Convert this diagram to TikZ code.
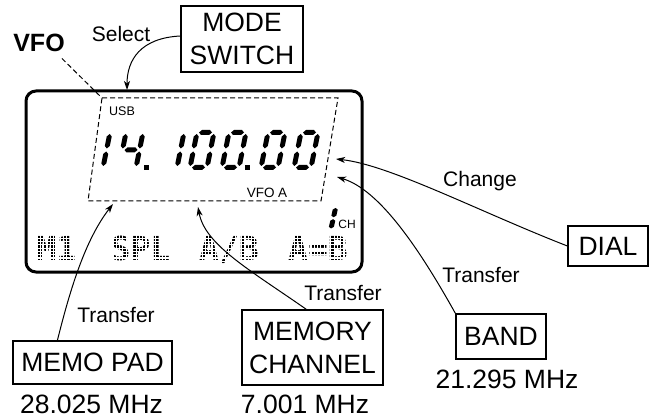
\documentclass[tikz,border=0pt]{standalone}
\usepackage{fontspec}
\setmainfont{Liberation Sans}
\newfontfamily\dotfont{DejaVu Sans Mono}
\usetikzlibrary{arrows.meta}

% seven-segment segments (local cell: width 22, height 40, y down, bottom at 0)
\def\segA{(4.5,-37.5) -- (7,-40) -- (15,-40) -- (17.5,-37.5) -- (15,-35) -- (7,-35) -- cycle }
\def\segG{(4.5,-20) -- (7,-22.5) -- (15,-22.5) -- (17.5,-20) -- (15,-17.5) -- (7,-17.5) -- cycle }
\def\segD{(4.5,-2.5) -- (7,-5) -- (15,-5) -- (17.5,-2.5) -- (15,0) -- (7,0) -- cycle }
\def\segF{(2.5,-36) -- (5,-33.5) -- (5,-24) -- (2.5,-21.5) -- (0,-24) -- (0,-33.5) -- cycle }
\def\segE{(2.5,-18.5) -- (5,-16) -- (5,-6.5) -- (2.5,-4) -- (0,-6.5) -- (0,-16) -- cycle }
\def\segB{(19.5,-36) -- (22,-33.5) -- (22,-24) -- (19.5,-21.5) -- (17,-24) -- (17,-33.5) -- cycle }
\def\segC{(19.5,-18.5) -- (22,-16) -- (22,-6.5) -- (19.5,-4) -- (17,-6.5) -- (17,-16) -- cycle }

\newcommand\sevzero[2]{\begin{scope}[shift={(#1,#2)},xslant=0.2]\fill \segA \segB \segC \segD \segE \segF;\end{scope}}
\newcommand\sevone[2]{\begin{scope}[shift={(#1,#2)},xslant=0.2]\fill \segB \segC;\end{scope}}
\newcommand\sevfour[2]{\begin{scope}[shift={(#1,#2)},xslant=0.2]\fill \segB \segC \segF \segG;\end{scope}}

\begin{document}
\begin{tikzpicture}[x=1pt,y=-1pt,
  box/.style={draw, line width=1.2pt, inner sep=0pt, align=center,
    font=\fontsize{26.5}{33}\selectfont},
  lab/.style={anchor=base, inner sep=0pt, font=\fontsize{21}{24}\selectfont},
  freq/.style={anchor=base, inner sep=0pt, font=\fontsize{26.5}{30}\selectfont},
  small/.style={anchor=base, inner sep=0pt, font=\fontsize{12.5}{14}\selectfont},
  dm/.style={anchor=base, inner sep=0pt, font=\dotfont\bfseries\fontsize{33}{36}\selectfont},
  conn/.style={line width=1pt, -{Stealth[length=9pt,width=6pt,inset=2.5pt]}},
  dsh/.style={line width=1pt, dash pattern=on 5pt off 3pt}]
\useasboundingbox (0,0) rectangle (652,419);

% ---- display ----
\draw[line width=3pt, rounded corners=10pt] (26,91) rectangle (362,272);

% dashed VFO frame
\coordinate (pTL) at (102,98);
\coordinate (pTR) at (338,98);
\coordinate (pBR) at (321,201);
\coordinate (pBL) at (88,201);
\draw[dsh] (pTL) -- (pTR) -- (pBR) -- (pBL) -- cycle;

% seven-segment frequency 14. 100.00
\sevone{83}{170}
\sevfour{116}{170}
\fill (144,165) rectangle (149,170);
\sevone{157}{170}
\sevzero{187}{170}
\sevzero{219}{170}
\fill (245,165) rectangle (250,170);
\sevzero{258}{170}
\sevzero{291}{170}

% channel digit 1
\begin{scope}[shift={(311,231)},xslant=0.22,yscale=0.64]
  \fill \segB \segC;
\end{scope}

\node[small] (usb) at (122,116) {USB};
\node[small, font=\fontsize{13.5}{15}\selectfont] (vfoa) at (267,198) {VFO A};
\node[small, font=\fontsize{12}{14}\selectfont] (ch) at (347,229) {CH};

% dot-matrix line
\node[dm] (m1) at (56.5,260) {M1};
\node[dm] (spl) at (140.5,260) {SPL};
\node[dm] (ab) at (229,260) {A/B};
\node[dm] (aeqb) at (318,260) {A=B};
\begin{scope}
  \clip (30,231) rectangle (358,264);
  \foreach \i in {0,...,11} \draw[white,line width=1.1pt] (30,231.6+\i*3.3) -- (358,231.6+\i*3.3);
  \foreach \i in {0,...,100} \draw[white,line width=1.1pt] (30.5+\i*3.3,231) -- (30.5+\i*3.3,264);
\end{scope}

% ---- outside labels and boxes ----
\node[anchor=base, inner sep=0pt, font=\bfseries\fontsize{25}{28}\selectfont] (vfo) at (39,52) {VFO};
\node[lab] (select) at (121,42) {Select};
\node[box, minimum width=122pt, minimum height=66pt] (mode) at (242,39) {MODE\\SWITCH};
\node[box, minimum width=80pt, minimum height=40pt] (dial) at (608,246) {DIAL};
\node[box, minimum width=90pt, minimum height=45pt] (band) at (501,336.5) {BAND};
\node[box, minimum width=141pt, minimum height=75pt] (memch) at (312.5,347.5) {MEMORY\\CHANNEL};
\node[box, minimum width=159pt, minimum height=43pt] (memo) at (92.5,362.5) {MEMO PAD};

\node[lab] (change) at (480,187) {Change};
\node[lab] (tr1) at (481,282) {Transfer};
\node[lab] (tr2) at (343,300) {Transfer};
\node[lab] (tr3) at (116,322) {Transfer};

\node[freq] (f1) at (91.5,413) {28.025 MHz};
\node[freq] (f2) at (305,413) {7.001 MHz};
\node[freq] (f3) at (507,388) {21.295 MHz};

% ---- connectors ----
\coordinate (tSel) at (127,90);
\coordinate (tDial) at (336,159);
\coordinate (tBand) at (337,177);
\coordinate (tMemch) at (198,207);
\coordinate (tMemo) at (113,204);

\draw[dsh] ([xshift=-3pt,yshift=-6pt]vfo.south east) -- (pTL);
\draw[conn] ([yshift=3pt]mode.west) .. controls +(-40,2) and +(0,-30) .. (tSel);
\draw[conn] (dial.west) .. controls (480,212) and (390,165) .. (tDial);
\draw[conn] (band.north west) .. controls (420,250) and (380,190) .. (tBand);
\draw[conn] ([xshift=65pt]memch.north west) .. controls (250,270) and (205,245) .. (tMemch);
\draw[conn] ([xshift=45pt]memo.north west) .. controls (70,290) and (85,240) .. (tMemo);
\end{tikzpicture}
\end{document}
